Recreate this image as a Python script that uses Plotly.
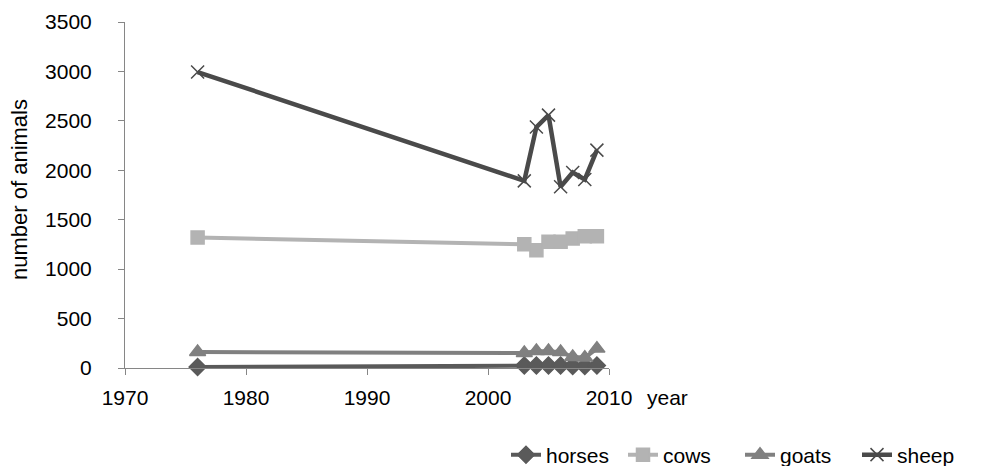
import plotly.graph_objects as go

years = [1976, 2003, 2004, 2005, 2006, 2007, 2008, 2009]
horses = [10, 25, 25, 25, 25, 20, 20, 25]
cows = [1320, 1252, 1192, 1276, 1276, 1310, 1333, 1333]
goats = [162, 152, 172, 172, 162, 111, 105, 196]
sheep = [2994, 1893, 2437, 2558, 1833, 1978, 1907, 2204]

x_ticks = [1970, 1980, 1990, 2000, 2010]
y_ticks = [0, 500, 1000, 1500, 2000, 2500, 3000, 3500]

FONT = "Liberation Sans, Arial, sans-serif"
FS = 21

series = [
    ("horses", horses, "#5a5a5a", "diamond", 13, 4),
    ("cows", cows, "#b3b3b3", "square", 13, 4),
    ("goats", goats, "#808080", "triangle-up", 14, 4),
    ("sheep", sheep, "#4a4a4a", "x-thin-open", 13, 4.5),
]

fig = go.Figure()
for name, vals, col, sym, size, lw in series:
    fig.add_trace(go.Scatter(
        x=years, y=vals, name=name, mode="lines+markers",
        line=dict(color=col, width=lw),
        marker=dict(symbol=sym, size=size, color=col,
                    line=dict(color=col, width=1.5)),
        cliponaxis=False,
    ))

L, R, T, B = 125, 380, 22, 98
W, H = 989, 466
pw, ph = W - L - R, H - T - B


def px(x):
    return (x - L) / pw


def py(y):
    return (H - B - y) / ph


fig.update_layout(
    width=W, height=H,
    margin=dict(l=L, r=R, t=T, b=B, autoexpand=False),
    paper_bgcolor="white", plot_bgcolor="white",
    font=dict(family=FONT, size=FS, color="#000000"),
    showlegend=True,
    legend=dict(orientation="h", x=px(506), xanchor="left", y=py(455), yanchor="middle",
                font=dict(size=FS), entrywidth=72, entrywidthmode="pixels", tracegroupgap=0),
    xaxis=dict(range=[1970, 2010], tickvals=x_ticks, showgrid=False, zeroline=False,
               showline=True, linecolor="#868686", linewidth=1,
               ticks="outside", ticklen=6, tickcolor="#868686", ticklabelstandoff=5),
    yaxis=dict(range=[0, 3500], tickvals=y_ticks, showgrid=False, zeroline=False,
               showline=True, linecolor="#868686", linewidth=1,
               ticks="outside", ticklen=6, tickcolor="#868686", ticklabelstandoff=22),
    annotations=[
        dict(text="number of animals", textangle=-90, x=px(19), y=py(190), xref="paper", yref="paper",
             xanchor="center", yanchor="middle", showarrow=False, font=dict(size=22)),
        dict(text="year", x=px(645), y=py(398), xref="paper", yref="paper",
             xanchor="left", yanchor="middle", showarrow=False, font=dict(size=FS)),
    ],
)

fig.write_html("out.html")
